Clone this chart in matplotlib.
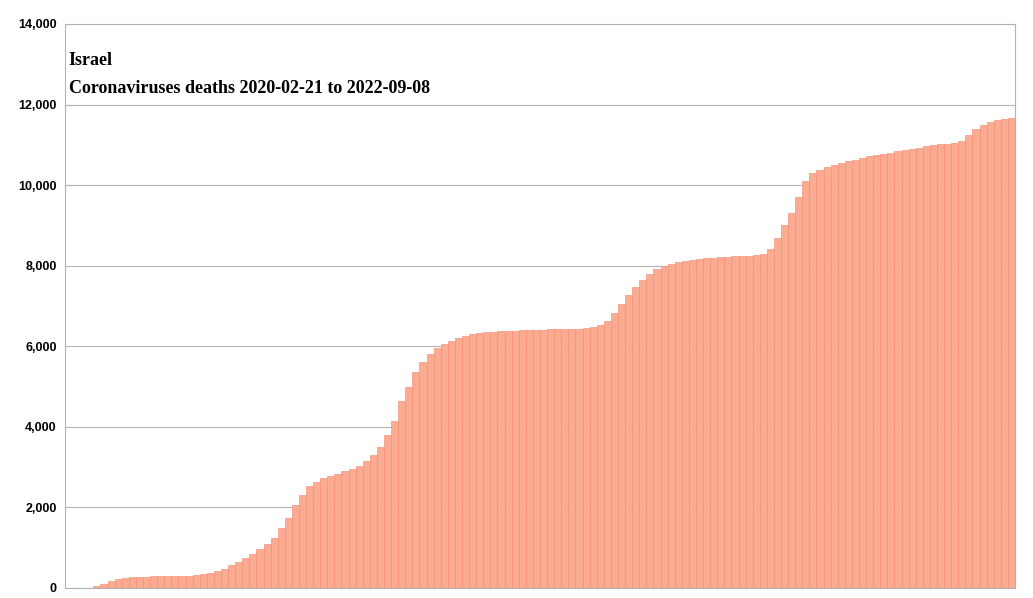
import matplotlib
matplotlib.use("Agg")
import matplotlib.pyplot as plt
import numpy as np

weeks = list(range(134))
deaths = [0,0,0,5,50,100,170,220,250,270,280,285,290,295,300,300,305,310,320,340,
          370,410,480,560,640,740,840,960,1080,1250,1480,1750,2050,2320,2520,2640,2720,2780,2840,2900,
          2960,3030,3150,3300,3500,3800,4150,4650,5000,5350,5600,5800,5950,6050,6130,6200,6250,6300,6330,6350,
          6360,6370,6380,6390,6400,6405,6410,6415,6420,6425,6430,6435,6440,6450,6470,6520,6640,6820,7050,7280,
          7480,7650,7800,7920,8000,8050,8090,8120,8150,8170,8190,8200,8210,8220,8230,8240,8250,8260,8300,8420,
          8700,9000,9300,9700,10100,10300,10380,10440,10490,10540,10590,10630,10680,10720,10750,10780,10810,10840,10870,10900,
          10930,10960,10990,11010,11030,11050,11100,11250,11400,11500,11570,11610,11640,11660]
yticks = [0,2000,4000,6000,8000,10000,12000,14000]
title1 = "Israel"
title2 = "Coronaviruses deaths 2020-02-21 to 2022-09-08"

fig = plt.figure(figsize=(10.33,5.98), dpi=100)
ax = fig.add_axes([65/1033, 10/598, 950/1033, 564/598])
ax.bar(weeks, deaths, width=1.0, color="#fbab92", edgecolor="#f4876a", linewidth=0.4, zorder=2)
ax.set_xlim(-0.5, len(weeks)-0.5)
ax.set_ylim(0, 14000)
ax.set_yticks(yticks)
ax.set_yticklabels([f"{v:,}" for v in yticks], fontsize=9, fontweight="bold", family="Liberation Sans")
ax.set_xticks([])
ax.tick_params(axis="y", length=0, pad=6)
ax.grid(axis="y", color="#b3b3b3", linewidth=0.8, zorder=0)
for s in ax.spines.values():
    s.set_color("#b3b3b3")
ax.text(0.004, 0.935, title1, transform=ax.transAxes, fontsize=13, fontweight="bold", family="Liberation Serif", va="center")
ax.text(0.004, 0.885, title2, transform=ax.transAxes, fontsize=13, fontweight="bold", family="Liberation Serif", va="center")
fig.savefig("out.png", dpi=100)
